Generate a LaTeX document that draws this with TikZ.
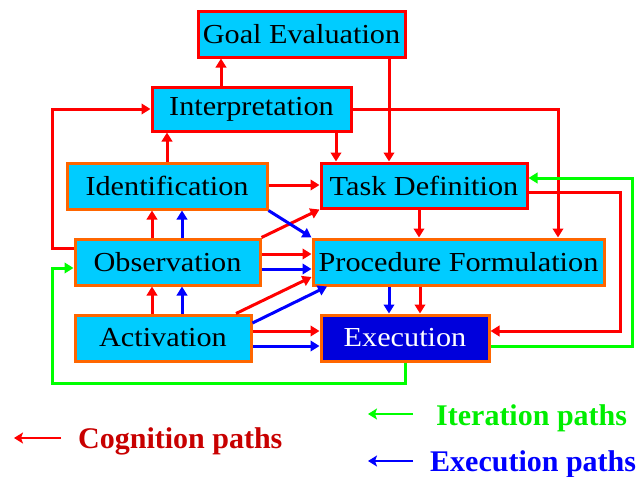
\documentclass[tikz,border=0pt]{standalone}
\usepackage{fontspec}
\setmainfont{Liberation Serif}
\newfontfamily\boxfont{Liberation Serif}[FakeStretch=1.1]
\usetikzlibrary{arrows.meta}
\definecolor{boxcyan}{RGB}{0,204,255}
\definecolor{bred}{RGB}{255,0,0}
\definecolor{borange}{RGB}{255,102,0}
\definecolor{bgreen}{RGB}{0,255,0}
\definecolor{bblue}{RGB}{0,0,255}
\definecolor{execfill}{RGB}{0,0,220}
\definecolor{cogtext}{RGB}{200,0,0}
\definecolor{itertext}{RGB}{0,238,0}
\tikzset{
  box/.style={draw, line width=3pt, fill=boxcyan, inner sep=0pt,
    font=\boxfont\fontsize{27.5}{30}\selectfont, text=black},
  redbox/.style={box, draw=bred},
  orbox/.style={box, draw=borange},
  cog/.style={draw=bred, line width=3pt, -{Triangle[length=9pt,width=10.5pt]}},
  exe/.style={draw=bblue, line width=3pt, -{Triangle[length=9pt,width=10.5pt]}},
  ite/.style={draw=bgreen, line width=3pt, -{Triangle[length=9pt,width=10.5pt]}},
  legarrow/.style={line width=2.8pt, -{Stealth[length=9pt,width=11pt,inset=2pt]}},
  legtext/.style={anchor=base west, inner sep=0pt, font=\bfseries\fontsize{30}{32}\selectfont},
}
\begin{document}
\begin{tikzpicture}[x=1pt,y=-1pt]
\useasboundingbox (0,0) rectangle (638,477);
% boxes
\node[redbox, minimum width=207, minimum height=46] (goal) at (301.5,34) {Goal Evaluation};
\node[redbox, minimum width=199, minimum height=44] (interp) at (251.5,109) {Interpretation};
\node[orbox, minimum width=200, minimum height=46] (ident) at (167,186) {Identification};
\node[redbox, minimum width=206, minimum height=45] (task) at (424,185.5) {Task Definition};
\node[orbox, minimum width=185, minimum height=46] (obs) at (167.5,262) {Observation};
\node[orbox, minimum width=291, minimum height=46] (pf) at (458.5,262) {Procedure Formulation};
\node[orbox, minimum width=176, minimum height=46] (act) at (163,338) {Activation};
\node[orbox, fill=execfill, text=white, minimum width=168, minimum height=46] (exec) at (405,338) {Execution};
% cognition paths
\draw[cog] (221,0 |- interp.north) -- (221,0 |- goal.south);
\draw[cog] (389,0 |- goal.south) -- (389,0 |- task.north);
\draw[cog] (336,0 |- interp.south) -- (336,0 |- task.north);
\draw[cog] (interp.east) -- (558,0 |- interp.east) -- (558,0 |- pf.north);
\draw[cog] (obs.west |- 0,248) -- (52,248) -- (52,0 |- interp.west) -- (interp.west);
\draw[cog] (ident.north) -- (ident.north |- interp.south);
\draw[cog] (ident.east |- 0,185) -- (task.west |- 0,185);
\draw[cog] (obs.north east) -- (task.south west);
\draw[cog] (obs.east |- 0,254) -- (pf.west |- 0,254);
\draw[cog] (152,0 |- obs.north) -- (152,0 |- ident.south);
\draw[cog] (152,0 |- act.north) -- (152,0 |- obs.south);
\draw[cog] (236,0 |- act.north) -- (pf.west |- 0,277);
\draw[cog] (act.east |- 0,331) -- (exec.west |- 0,331);
\draw[cog] (420,0 |- pf.south) -- (420,0 |- exec.north);
\draw[cog] (419,0 |- task.south) -- (419,0 |- pf.north);
\draw[cog] (task.east |- 0,192) -- (620,192) -- (620,331) -- (exec.east |- 0,331);
% execution paths
\draw[exe] (ident.south east) -- (pf.north west);
\draw[exe] (obs.east |- 0,269) -- (pf.west |- 0,269);
\draw[exe] (182,0 |- obs.north) -- (182,0 |- ident.south);
\draw[exe] (182,0 |- act.north) -- (182,0 |- obs.south);
\draw[exe] (act.east |- 0,323) -- (327,0 |- pf.south);
\draw[exe] (act.east |- 0,346) -- (exec.west |- 0,346);
\draw[exe] (389,0 |- pf.south) -- (389,0 |- exec.north);
% iteration paths
\draw[ite] (exec.east |- 0,346) -- (632,346) -- (632,178) -- (task.east |- 0,178);
\draw[ite] (exec.south) -- (exec.south |- 0,383) -- (52,383) -- (52,268) -- (obs.west |- 0,268);
% legend
\coordinate (l1s) at (413,414); \coordinate (l1e) at (368,414);
\coordinate (l2s) at (61,438); \coordinate (l2e) at (14,438);
\coordinate (l3s) at (413,461); \coordinate (l3e) at (368,461);
\draw[legarrow, bgreen] (l1s) -- (l1e);
\draw[legarrow, bred] (l2s) -- (l2e);
\draw[legarrow, bblue] (l3s) -- (l3e);
\node[legtext, text=itertext] (t1) at (436,425) {Iteration paths};
\node[legtext, text=cogtext] (t2) at (78,448) {Cognition paths};
\node[legtext, text=bblue] (t3) at (430,471) {Execution paths};
\end{tikzpicture}
\end{document}
